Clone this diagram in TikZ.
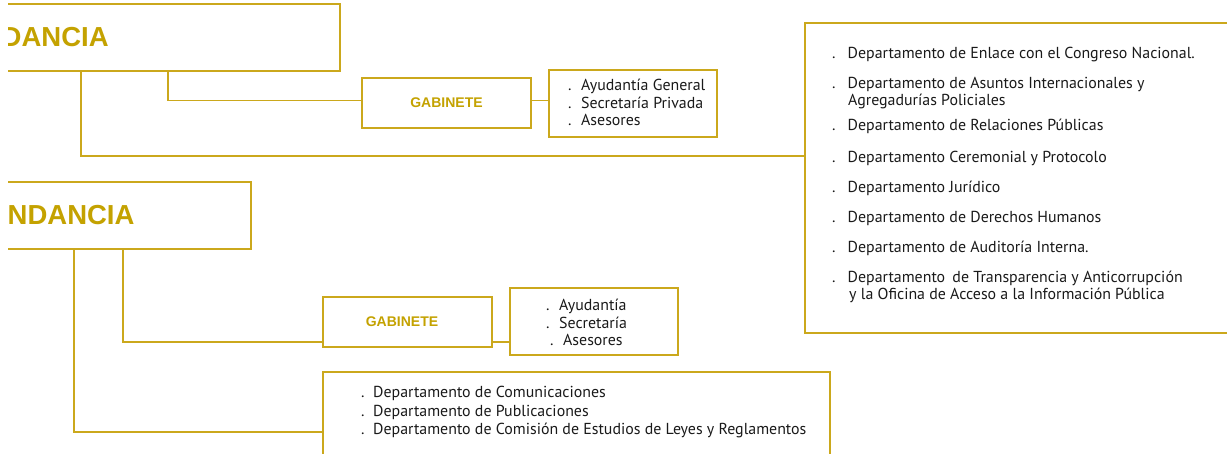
\documentclass[tikz,border=0pt]{standalone}
\usepackage{fontspec}
\setmainfont{PT Sans}
\newfontfamily\titlefont{Liberation Sans}
\definecolor{gold}{HTML}{CBA81C}
\definecolor{goldtext}{HTML}{C4A200}
\definecolor{ink}{HTML}{1A1A1A}
\newcommand{\bul}[1]{\makebox[#1][l]{.}}
\begin{document}
\begin{tikzpicture}[x=1pt,y=-1pt,
  frame/.style={draw=gold,line width=1.2pt,inner sep=0,fill=none},
  conn/.style={draw=gold,line width=1.2pt},
  bigtitle/.style={anchor=base west,inner sep=0,text=goldtext,font=\titlefont\bfseries\fontsize{27.5}{30}\selectfont},
  gabtext/.style={text=goldtext,font=\titlefont\bfseries\fontsize{14}{16}\selectfont},
  lst/.style={anchor=base west,inner sep=0,text=ink,font=\fontsize{15.9}{17.5}\selectfont}]
\useasboundingbox (0,0) rectangle (1227,454);
\fill[white] (0,0) rectangle (1227,454);
\begin{scope}
\clip (8,-2) rectangle (1228,456);
% boxes
\node[frame,minimum width=344pt,minimum height=67pt] (box1) at (168,37.5) {};
\node[frame,minimum width=256pt,minimum height=67pt] (box2) at (123,215.5) {};
\node[frame,gabtext,minimum width=169pt,minimum height=50pt] (gab1) at (446.5,103) {GABINETE};
\node[frame,minimum width=168pt,minimum height=67pt] (list1) at (633,103.5) {};
\node[frame,minimum width=440pt,minimum height=310pt] (rb) at (1025,178) {};
\node[frame,gabtext,minimum width=169pt,minimum height=50pt] (gab2) at (407.5,322) {GABINETE\hspace*{11pt}};
\node[frame,minimum width=168pt,minimum height=67pt] (list2) at (594,321.5) {};
\node[frame,minimum width=507pt,minimum height=120pt] (bb) at (576.5,432) {};
% titles
\node[bigtitle] (t1) at (1.5,47) {DANCIA};
\node[bigtitle] (t2) at (7.5,225) {NDANCIA};
% connectors
\draw[conn] (box1.south) |- ([yshift=2.5pt]gab1.west);
\draw[conn] ([yshift=2.5pt]gab1.east) -- ([yshift=2.5pt]gab1.east -| list1.west);
\draw[conn] ([xshift=-87pt]box1.south) |- ([yshift=22pt]rb.west);
\draw[conn] (box2.south) |- ([yshift=-20pt]gab2.west);
\draw[conn] ([yshift=-20pt]gab2.east) -- ([yshift=-20pt]gab2.east -| list2.west);
\draw[conn] ([xshift=-49pt]box2.south) |- (bb.west);
% list 1
\node[lst] (a1) at (568,91) {\bul{13pt}Ayudantía General};
\node[lst] (a2) at (568,108.5) {\bul{13pt}Secretaría Privada};
\node[lst] (a3) at (568,126) {\bul{13pt}Asesores};
% list 2
\node[lst] (b1) at (546,311) {\bul{13pt}Ayudantía};
\node[lst] (b2) at (546,328.5) {\bul{13pt}Secretaría};
\node[lst] (b3) at (550,346) {\bul{13pt}Asesores};
% right box
\node[lst] (r1) at (832,58.5) {\bul{15.5pt}Departamento de Enlace con el Congreso Nacional.};
\node[lst] (r2) at (832,88.5) {\bul{15.5pt}Departamento de Asuntos Internacionales y};
\node[lst] (r2b) at (848,105.5) {Agregadurías Policiales};
\node[lst] (r3) at (832,130.5) {\bul{15.5pt}Departamento de Relaciones Públicas};
\node[lst] (r4) at (832,162.5) {\bul{15.5pt}Departamento Ceremonial y Protocolo};
\node[lst] (r5) at (832,192.5) {\bul{15.5pt}Departamento Jurídico};
\node[lst] (r6) at (832,222.5) {\bul{15.5pt}Departamento de Derechos Humanos};
\node[lst] (r7) at (832,252.5) {\bul{15.5pt}Departamento de Auditoría Interna.};
\node[lst] (r8) at (832,282.5) {\bul{15.5pt}Departamento\hspace{3pt} de Transparencia y Anticorrupción};
\node[lst] (r8b) at (849,299.5) {y la Oficina de Acceso a la Información Pública};
% bottom box
\node[lst] (c1) at (361,397.5) {\bul{12pt}Departamento de Comunicaciones};
\node[lst] (c2) at (361,416.5) {\bul{12pt}Departamento de Publicaciones};
\node[lst] (c3) at (361,434.5) {\bul{12pt}Departamento de Comisión de Estudios de Leyes y Reglamentos};
\end{scope}
\end{tikzpicture}
\end{document}
